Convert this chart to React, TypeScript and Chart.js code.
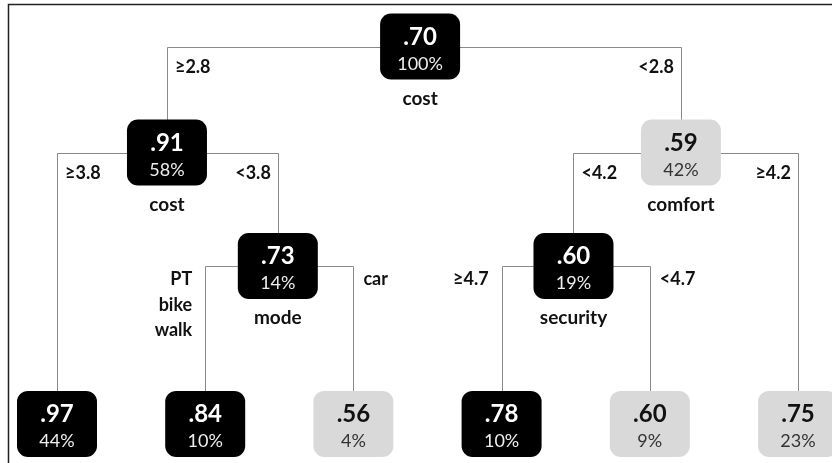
import { useEffect, useRef } from "react";
import { Chart, registerables } from "chart.js";
Chart.register(...registerables);

// Tree nodes (0 = root)
const nodeValues = [".70", ".91", ".59", ".73", ".60", ".97", ".84", ".56", ".78", ".60", ".75"];
const nodeShares = ["100%", "58%", "42%", "14%", "19%", "44%", "10%", "4%", "10%", "9%", "23%"];
const nodeSplitVar = ["cost", "cost", "comfort", "mode", "security", "", "", "", "", "", ""];
const nodeParent = [-1, 0, 0, 1, 2, 1, 3, 3, 4, 4, 2];
const edgeLabels = ["", "≥2.8", "<2.8", "<3.8", "<4.2", "≥3.8", "PT\nbike\nwalk", "car", "≥4.7", "<4.7", "≥4.2"];
const nodeDark = [true, true, false, true, true, true, true, false, true, false, false];
// horizontal slot (leaf index units) and vertical row (depth units)
const nodeSlot = [2.45, 0.742, 4.21, 1.49, 3.485, 0, 1, 2, 3, 4, 5];
const nodeRow = [0, 0.843, 0.843, 1.745, 1.745, 3, 3, 3, 3, 3, 3];
const labelsOutside = [false, false, false, true, true, false, false, false, false, false, false];

const FONT = "Lato, 'Open Sans', sans-serif";

const treePlugin = {
  id: "tree",
  afterDatasetsDraw(chart: any) {
    const ctx = chart.ctx as CanvasRenderingContext2D;
    const xs = chart.scales.x;
    const ys = chart.scales.y;
    const px = nodeSlot.map((s) => xs.getPixelForValue(s));
    const py = nodeRow.map((r) => ys.getPixelForValue(r));
    const W = 80, H = 66, R = 11;
    ctx.save();
    // frame
    ctx.strokeStyle = "#222";
    ctx.lineWidth = 1.5;
    ctx.beginPath();
    ctx.moveTo(8.5, 463);
    ctx.lineTo(8.5, 4.5);
    ctx.lineTo(832, 4.5);
    ctx.stroke();
    // edges
    ctx.strokeStyle = "#8a8a8a";
    ctx.lineWidth = 1;
    for (let i = 0; i < nodeParent.length; i++) {
      const p = nodeParent[i];
      if (p < 0) continue;
      const ly = Math.round(py[p]) + 0.5;
      const cx = Math.round(px[i]) + 0.5;
      ctx.beginPath();
      ctx.moveTo(px[p], ly);
      ctx.lineTo(cx, ly);
      ctx.lineTo(cx, py[i] - H / 2 + 1);
      ctx.stroke();
    }
    // edge labels
    ctx.fillStyle = "#111";
    ctx.font = `bold 18px ${FONT}`;
    for (let i = 0; i < nodeParent.length; i++) {
      const p = nodeParent[i];
      if (p < 0) continue;
      const isLeft = px[i] < px[p];
      const out = labelsOutside[p];
      let x: number, align: CanvasTextAlign, y: number;
      if (!out) {
        if (isLeft) { x = px[i] + 8; align = "left"; } else { x = px[i] - 7; align = "right"; }
        y = py[p] + 20 + 6;
      } else {
        if (isLeft) { x = px[i] - 13; align = "right"; } else { x = px[i] + 10; align = "left"; }
        y = py[p] + 13 + 6;
      }
      ctx.textAlign = align;
      ctx.textBaseline = "alphabetic";
      edgeLabels[i].split("\n").forEach((ln, k) => ctx.fillText(ln, x, y + k * 25.5));
    }
    // nodes
    for (let i = 0; i < nodeValues.length; i++) {
      const cx = px[i], cy = py[i];
      ctx.fillStyle = nodeDark[i] ? "#000" : "#d9d9d9";
      ctx.beginPath();
      (ctx as any).roundRect(cx - W / 2, cy - H / 2, W, H, R);
      ctx.fill();
      ctx.textAlign = "center";
      ctx.textBaseline = "alphabetic";
      ctx.fillStyle = nodeDark[i] ? "#fff" : "#111";
      ctx.font = `bold 24px ${FONT}`;
      ctx.fillText(nodeValues[i], cx, cy - 2);
      ctx.fillStyle = nodeDark[i] ? "#eee" : "#333";
      ctx.font = `18px ${FONT}`;
      ctx.fillText(nodeShares[i], cx, cy + 23);
      if (nodeSplitVar[i]) {
        ctx.fillStyle = "#111";
        ctx.font = `bold 19px ${FONT}`;
        ctx.fillText(nodeSplitVar[i], cx, cy + 58);
      }
    }
    ctx.restore();
  },
};

export default function App() {
  const ref = useRef<HTMLCanvasElement>(null);
  useEffect(() => {
    if (!ref.current) return;
    const pxPerSlot = 148.2;
    const xMin = -57 / pxPerSlot;
    const pxPerRow = 125.8;
    const yMin = -46.5 / pxPerRow;
    const chart = new Chart(ref.current, {
      type: "scatter",
      data: {
        datasets: [
          {
            label: "nodes",
            data: nodeSlot.map((s, i) => ({ x: s, y: nodeRow[i] })),
            pointRadius: 0,
            pointHoverRadius: 0,
          },
        ],
      },
      options: {
        animation: false,
        responsive: false,
        maintainAspectRatio: false,
        layout: { padding: 0 },
        events: [],
        plugins: { legend: { display: false }, tooltip: { enabled: false } },
        scales: {
          x: { type: "linear", min: xMin, max: xMin + 832 / pxPerSlot, display: false },
          y: { type: "linear", min: yMin, max: yMin + 463 / pxPerRow, reverse: true, display: false },
        },
      },
      plugins: [treePlugin],
    });
    return () => chart.destroy();
  }, []);
  return (
    <div style={{ position: "fixed", left: 0, top: 0, width: 832, height: 463, background: "#fff" }}>
      <canvas ref={ref} width={832} height={463} style={{ display: "block" }} />
    </div>
  );
}
